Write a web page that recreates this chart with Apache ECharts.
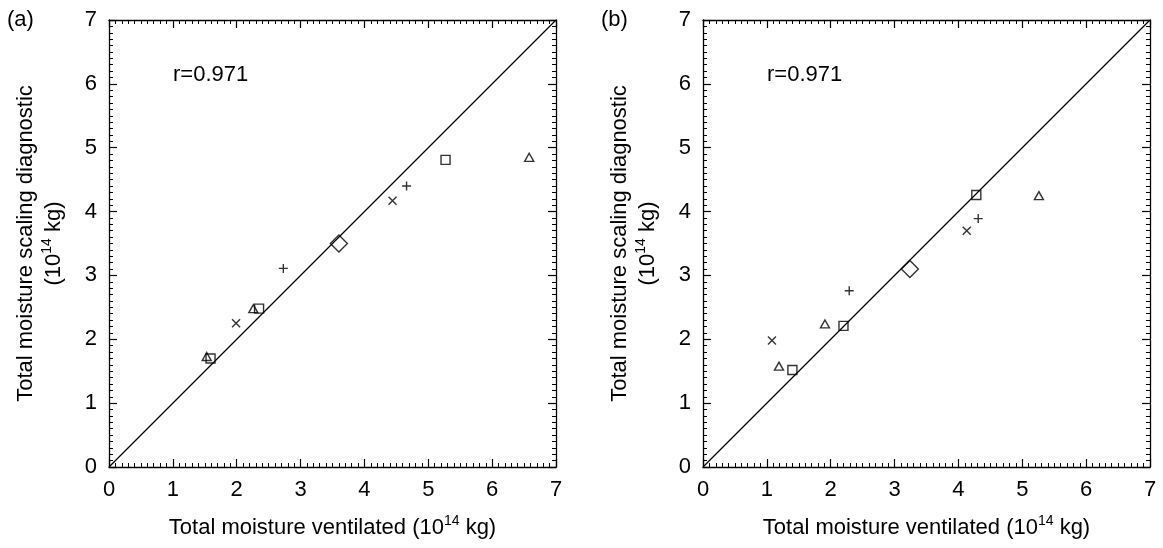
<!DOCTYPE html>
<html>
<head>
<meta charset="utf-8">
<script src="https://cdn.jsdelivr.net/npm/echarts@6/dist/echarts.min.js"></script>
<style>
  html, body { margin: 0; padding: 0; background: #fff; }
  #chart { width: 1163px; height: 548px; }
</style>
</head>
<body>
<div id="chart"></div>
<script>
// Axis ticks shared by both panels
const tickValues = [0, 1, 2, 3, 4, 5, 6, 7];
const correlationText = 'r=0.971';

// Panel (a): [ventilated, scaling diagnostic] in 10^14 kg
const aTriangles = [[1.53, 1.73], [2.26, 2.48], [6.58, 4.85]];
const aSquares   = [[1.59, 1.70], [2.35, 2.48], [5.27, 4.81]];
const aCrosses   = [[1.99, 2.25], [4.44, 4.17]];
const aPluses    = [[2.73, 3.11], [4.66, 4.40]];
const aDiamond   = [[3.60, 3.50]];

// Panel (b)
const bTriangles = [[1.19, 1.58], [1.91, 2.24], [5.26, 4.25]];
const bSquares   = [[1.40, 1.52], [2.20, 2.21], [4.28, 4.26]];
const bCrosses   = [[1.08, 1.98], [4.13, 3.70]];
const bPluses    = [[2.29, 2.76], [4.31, 3.89]];
const bDiamond   = [[3.24, 3.10]];

// 1:1 reference line
const oneToOne = [[0, 0], [7, 7]];

const FONT = '"Liberation Sans", Arial, Helvetica, sans-serif';
const INK = '#000';

const grids = [
  { left: 109, top: 20, width: 447, height: 447 },
  { left: 703, top: 20, width: 447, height: 447 }
];

const xTitle = '{t|Total moisture ventilated (10}{s|14}{t| kg)}';
const yTitle = '{t|Total moisture scaling diagnostic}\n{t|(10}{s|14}{t| kg)}';
// the superscript is lifted by padding its box at the bottom
const richText = {
  t: { fontFamily: FONT, fontSize: 22, color: INK, lineHeight: 28 },
  s: { fontFamily: FONT, fontSize: 14, color: INK, lineHeight: 14, padding: [0, 0, 14, 0] }
};

function axis(gridIndex, position, withLabels, title, isY) {
  const a = {
    type: 'value',
    gridIndex: gridIndex,
    position: position,
    min: tickValues[0],
    max: tickValues[tickValues.length - 1],
    interval: 1,
    splitLine: { show: false },
    axisLine: { show: true, onZero: false, lineStyle: { color: INK, width: 1.3 } },
    axisTick: { show: true, inside: true, length: 8, lineStyle: { color: INK, width: 1.2 } },
    minorTick: { show: true, splitNumber: 10, length: 4, lineStyle: { color: INK, width: 1 } },
    axisLabel: {
      show: withLabels,
      fontFamily: FONT,
      fontSize: 22,
      color: INK,
      margin: 12
    }
  };
  if (title) {
    a.name = title;
    a.nameLocation = 'middle';
    a.nameGap = isY ? 41 : 47;
    a.nameTextStyle = { rich: richText };
  }
  return a;
}

const xAxes = [], yAxes = [];
[0, 1].forEach(function (g) {
  xAxes.push(axis(g, 'bottom', true, xTitle, false));
  xAxes.push(axis(g, 'top', false, null, false));
  yAxes.push(axis(g, 'left', true, yTitle, true));
  yAxes.push(axis(g, 'right', false, null, true));
});

const crossPath = 'path://M0,0L10,10M10,0L0,10';
const plusPath = 'path://M5,0L5,10M0,5L10,5';

function markers(panel, data, symbol, size) {
  return {
    type: 'scatter',
    xAxisIndex: panel * 2,
    yAxisIndex: panel * 2,
    data: data,
    symbol: symbol,
    symbolSize: size,
    itemStyle: { color: 'rgba(0,0,0,0)', borderColor: INK, borderWidth: 1.4 },
    emphasis: { disabled: true },
    z: 3
  };
}

function diagonal(panel) {
  return {
    type: 'line',
    xAxisIndex: panel * 2,
    yAxisIndex: panel * 2,
    data: oneToOne,
    showSymbol: false,
    lineStyle: { color: INK, width: 1.2 },
    z: 2
  };
}

const panels = [
  [aTriangles, aSquares, aCrosses, aPluses, aDiamond],
  [bTriangles, bSquares, bCrosses, bPluses, bDiamond]
];

const series = [];
panels.forEach(function (p, i) {
  series.push(diagonal(i));
  series.push(markers(i, p[0], 'triangle', [9, 8]));
  series.push(markers(i, p[1], 'rect', 9));
  series.push(markers(i, p[2], crossPath, 8));
  series.push(markers(i, p[3], plusPath, 9));
  series.push(markers(i, p[4], 'diamond', 17));
});

function label(text, x, y) {
  return {
    type: 'text',
    left: x,
    top: y,
    style: { text: text, font: '22px ' + FONT, fill: INK }
  };
}

const chart = echarts.init(document.getElementById('chart'), null, { renderer: 'canvas' });
chart.setOption({
  animation: false,
  backgroundColor: '#fff',
  grid: grids,
  xAxis: xAxes,
  yAxis: yAxes,
  series: series,
  graphic: [
    label('(a)', 7, 9),
    label('(b)', 601, 9),
    label(correlationText, 173, 64),
    label(correlationText, 767, 64)
  ]
});
</script>
</body>
</html>
